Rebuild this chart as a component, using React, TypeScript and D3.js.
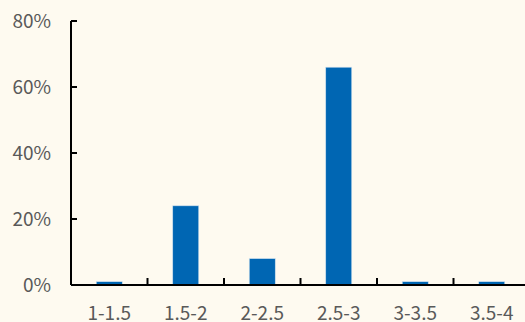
import React from "react";
import * as d3 from "d3";

const categories = ["1-1.5", "1.5-2", "2-2.5", "2.5-3", "3-3.5", "3.5-4"];
const shares = [1, 24, 8, 66, 1, 1];
const yTicks = [0, 20, 40, 60, 80];

const W = 525;
const H = 322;
const left = 71;
const right = 530;
const top = 21;
const bottom = 285;

export default function App() {
  const x = d3.scaleBand<string>().domain(categories).range([left, right]).paddingInner(0.66).paddingOuter(0.33);
  const y = d3.scaleLinear().domain([0, 80]).range([bottom, top]);
  const step = x.step();
  const font = "'Noto Sans CJK SC', 'Noto Sans', sans-serif";

  return (
    <svg width={W} height={H} style={{ position: "fixed", left: 0, top: 0 }}>
      <rect x={0} y={0} width={W} height={H} fill="#fefaf0" />
      {categories.map((c, i) => (
        <rect
          key={c}
          x={x(c)}
          y={y(shares[i])}
          width={x.bandwidth()}
          height={bottom - y(shares[i])}
          fill="#0066b3"
          stroke="#cfe0ee"
          strokeWidth={0.6}
        />
      ))}
      {/* y axis */}
      <line x1={left} x2={left} y1={top} y2={bottom} stroke="#000" strokeWidth={2} />
      {yTicks.map((t) => (
        <g key={t}>
          <line x1={left} x2={left + 6} y1={y(t)} y2={y(t)} stroke="#000" strokeWidth={2} />
          <text
            x={51}
            y={y(t)}
            dy="0.36em"
            textAnchor="end"
            fontFamily={font}
            fontSize={19}
            fill="#595959"
          >
            {t}%
          </text>
        </g>
      ))}
      {/* x axis */}
      <line x1={left} x2={W} y1={bottom} y2={bottom} stroke="#000" strokeWidth={2} />
      {categories.slice(1).map((c) => (
        <line
          key={c}
          x1={(x(c) as number) - step * 0.33}
          x2={(x(c) as number) - step * 0.33}
          y1={bottom}
          y2={bottom - 7}
          stroke="#000"
          strokeWidth={2}
        />
      ))}
      {categories.map((c) => (
        <text
          key={c}
          x={(x(c) as number) + x.bandwidth() / 2}
          y={313}
          dy="0.36em"
          textAnchor="middle"
          fontFamily={font}
          fontSize={19}
          fill="#595959"
        >
          {c}
        </text>
      ))}
    </svg>
  );
}
